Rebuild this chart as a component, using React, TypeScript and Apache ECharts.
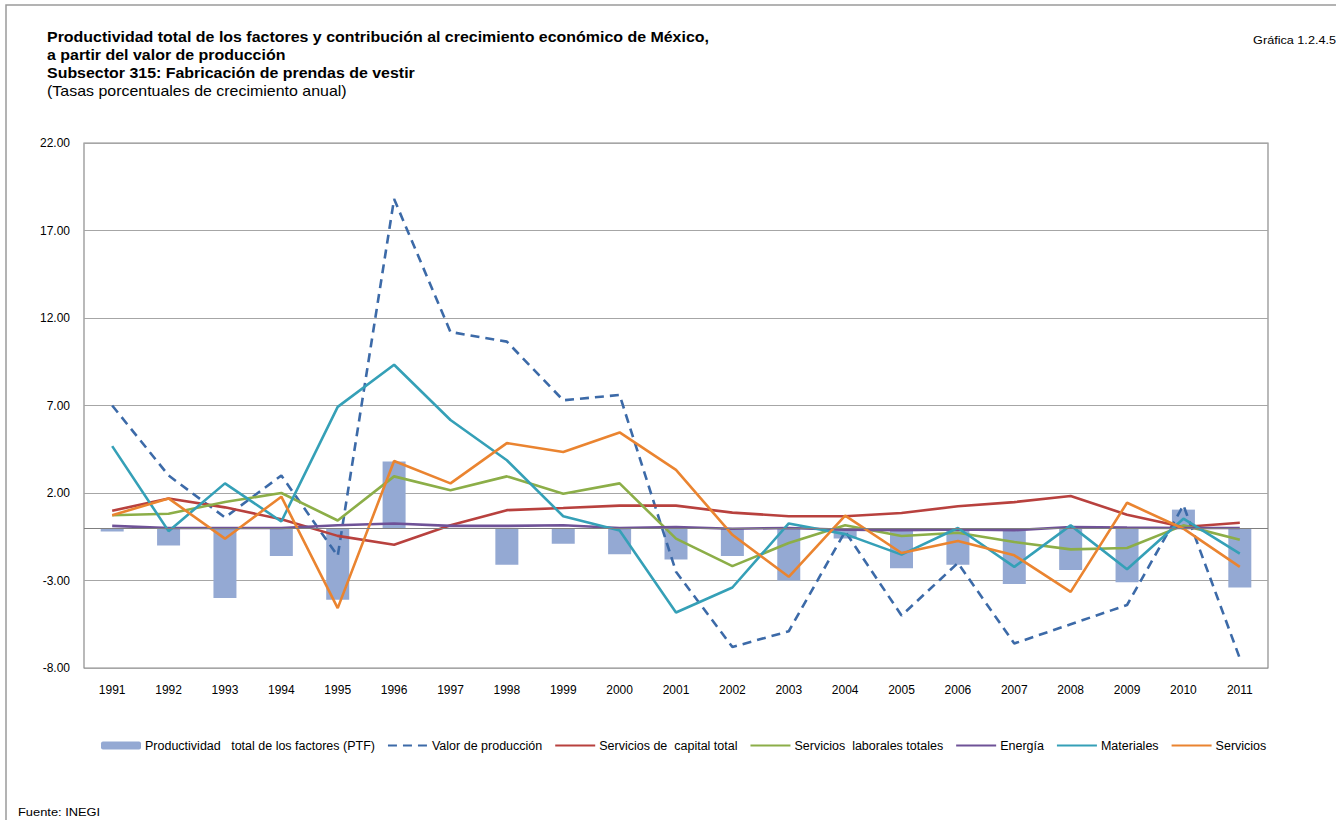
import React, { useEffect, useRef } from "react";
import * as echarts from "echarts";

const years = ["1991","1992","1993","1994","1995","1996","1997","1998","1999","2000","2001","2002","2003","2004","2005","2006","2007","2008","2009","2010","2011"];
const ptf = [-0.2,-1.0,-4.0,-1.6,-4.1,3.8,0.0,-2.1,-0.9,-1.5,-1.8,-1.6,-3.0,-0.6,-2.3,-2.1,-3.2,-2.4,-3.1,1.05,-3.4];
const valorProduccion = [7.0,3.0,0.6,3.0,-1.6,18.8,11.2,10.65,7.3,7.6,-2.5,-6.8,-5.9,-0.2,-5.0,-2.0,-6.6,-5.5,-4.4,1.3,-7.45];
const capital = [0.98,1.69,1.18,0.5,-0.45,-0.96,0.16,1.02,1.14,1.28,1.28,0.88,0.67,0.67,0.86,1.24,1.48,1.83,0.76,0.06,0.3];
const laborales = [0.73,0.81,1.49,2.0,0.43,2.95,2.16,2.95,1.96,2.55,-0.61,-2.18,-0.86,0.16,-0.46,-0.27,-0.8,-1.22,-1.14,0.15,-0.67];
const energia = [0.12,0.0,0.0,0.0,0.16,0.26,0.12,0.12,0.16,0.0,0.06,-0.04,0.0,-0.1,-0.13,-0.08,-0.13,0.06,0.02,0.0,0.0];
const materiales = [4.68,-0.18,2.55,0.37,6.92,9.33,6.17,3.87,0.67,-0.14,-4.83,-3.4,0.26,-0.35,-1.52,0.0,-2.22,0.15,-2.36,0.53,-1.46];
const servicios = [0.73,1.69,-0.61,1.79,-4.58,3.83,2.55,4.85,4.34,5.46,3.32,-0.39,-2.79,0.71,-1.43,-0.74,-1.56,-3.65,1.44,-0.04,-2.22];

const names = [
  "Productividad   total de los factores (PTF)",
  "Valor de producción",
  "Servicios de  capital total",
  "Servicios  laborales totales",
  "Energía",
  "Materiales",
  "Servicios",
];

const FONT = "Liberation Sans, Arial, sans-serif";
const SX = 1.14;

export default function App() {
  const ref = useRef<HTMLDivElement>(null);
  useEffect(() => {
    document.body.style.margin = "0";
    const chart = echarts.init(ref.current!, null, { renderer: "svg" });
    const line = (name: string, data: number[], color: string, dashed = false) => ({
      name,
      type: "line",
      data,
      symbol: "none",
      lineStyle: { color, width: 2.6, type: dashed ? [9, 6] : "solid" },
      itemStyle: { color },
      z: 3,
    });
    const titleText = (text: string, y: number, bold: boolean) => ({
      type: "text",
      x: 47,
      y,
      scaleX: SX,
      style: { text, font: `${bold ? "bold " : ""}14px ${FONT}`, fill: "#000" },
    });
    chart.setOption({
      animation: false,
      textStyle: { fontFamily: FONT },
      grid: { left: 84, right: 68, top: 143, bottom: 152, show: true, borderColor: "#8c8c8c", borderWidth: 1.2 },
      xAxis: {
        type: "category",
        data: years,
        axisLine: { show: false, onZero: false },
        axisTick: { show: false },
        axisLabel: { color: "#000", fontSize: 12, margin: 16, fontFamily: FONT },
      },
      yAxis: {
        type: "value",
        min: -8,
        max: 22,
        interval: 5,
        axisLine: { show: false },
        axisTick: { show: false },
        splitLine: { lineStyle: { color: "#a6a6a6", width: 1.2 } },
        axisLabel: { color: "#000", fontSize: 12, margin: 14, fontFamily: FONT, formatter: (v: number) => v.toFixed(2) },
      },
      legend: {
        top: 734,
        left: 96,
        itemGap: 12,
        itemWidth: 40,
        itemHeight: 8,
        itemStyle: { opacity: 0 },
        textStyle: { fontSize: 12.5, color: "#000", fontFamily: FONT, padding: [0, 0, 0, -1] },
        data: names.map((n, i) => (i === 0 ? { name: n, itemStyle: { opacity: 1 } } : { name: n })),
      },
      series: [
        {
          name: names[0],
          type: "bar",
          data: ptf,
          barWidth: 23,
          itemStyle: { color: "#94a9d3" },
          z: 2,
          markLine: {
            silent: true,
            symbol: "none",
            label: { show: false },
            lineStyle: { color: "#7f7f7f", width: 1.2, type: "solid" },
            data: [{ yAxis: 0 }],
          },
        },
        line(names[1], valorProduccion, "#3c6aa8", true),
        line(names[2], capital, "#b8413e"),
        line(names[3], laborales, "#8cae48"),
        line(names[4], energia, "#6f5297"),
        line(names[5], materiales, "#35a0b7"),
        line(names[6], servicios, "#ea8430"),
      ],
      graphic: [
        { type: "rect", shape: { x: 6, y: 5, width: 1400, height: 900 }, style: { fill: "none", stroke: "#9a9a9a", lineWidth: 1.5 }, silent: true },
        titleText("Productividad total de los factores y contribución al crecimiento económico de México,", 30, true),
        titleText("a partir del valor de producción", 48, true),
        titleText("Subsector 315: Fabricación de prendas de vestir", 66, true),
        titleText("(Tasas porcentuales de crecimiento anual)", 84, false),
        { type: "text", x: 1336, y: 34, scaleX: 1.1, style: { text: "Gráfica 1.2.4.5", font: `11.5px ${FONT}`, fill: "#000", align: "right" } },
        { type: "text", x: 18, y: 806, scaleX: 1.12, style: { text: "Fuente: INEGI", font: `11.5px ${FONT}`, fill: "#000" } },
      ],
    });
    return () => chart.dispose();
  }, []);
  return <div ref={ref} style={{ width: 1336, height: 820 }} />;
}
